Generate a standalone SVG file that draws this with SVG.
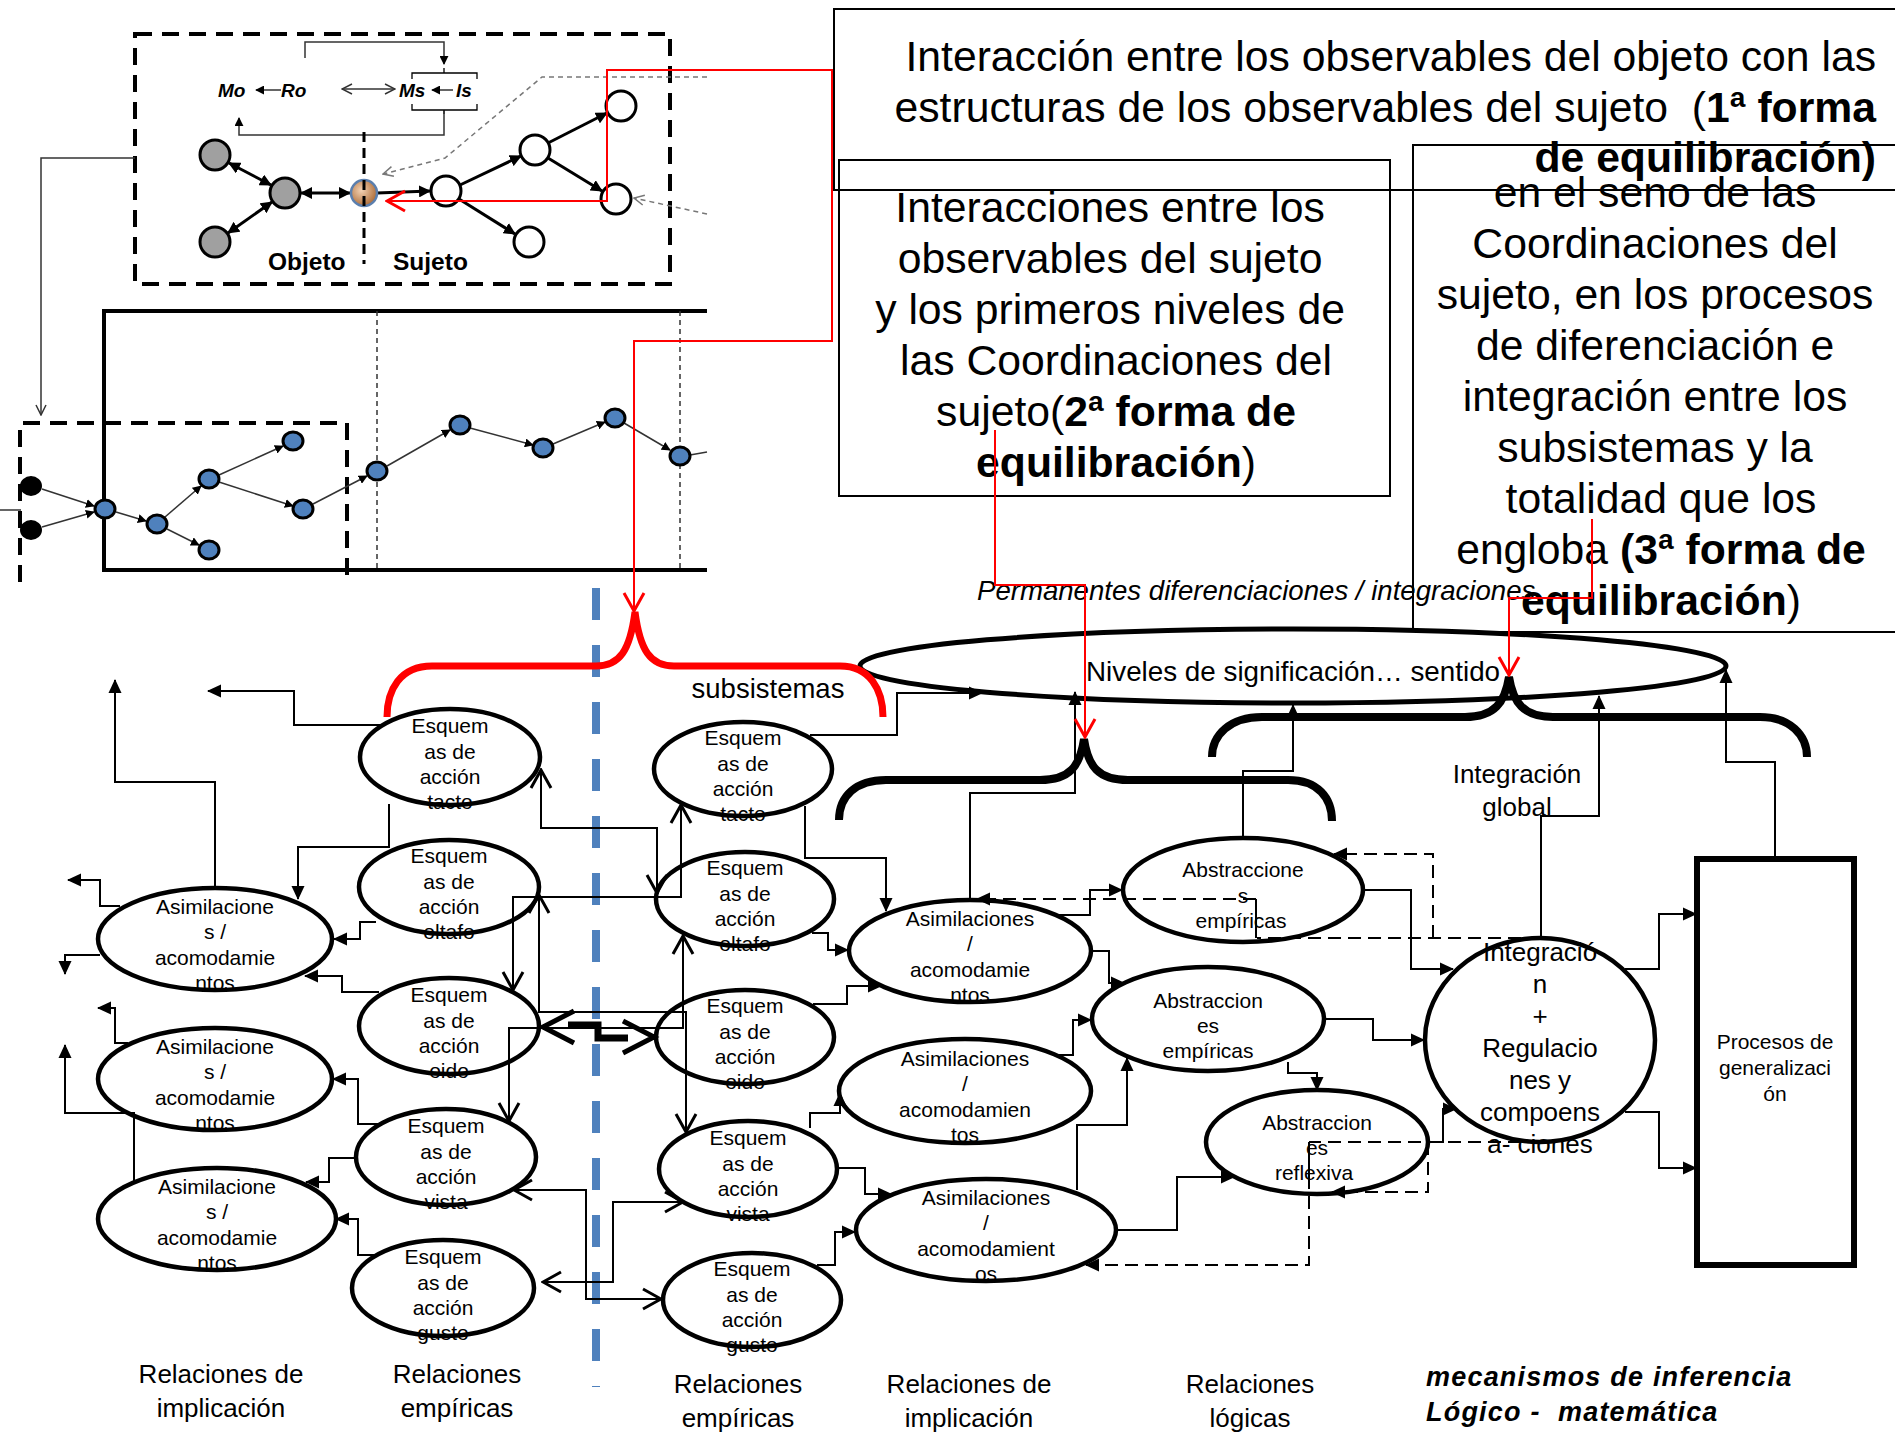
<svg xmlns="http://www.w3.org/2000/svg" width="1895" height="1440" viewBox="0 0 1895 1440">
<style>
text{font-family:"Liberation Sans",Arial,sans-serif;fill:#000}
.nd{fill:#fff;stroke:#000;stroke-width:4.5}
.t21{font-size:21px;text-anchor:middle}
.t42{font-size:42.7px}
.lab{font-size:26px;text-anchor:middle}
.c{fill:none;stroke:#000;stroke-width:2}
.ca{fill:none;stroke:#000;stroke-width:2;marker-end:url(#fa)}
.co{fill:none;stroke:#000;stroke-width:2;marker-start:url(#oa);marker-end:url(#oa)}
.cd{fill:none;stroke:#000;stroke-width:2;stroke-dasharray:13 7}
.cda{fill:none;stroke:#000;stroke-width:2;stroke-dasharray:13 7;marker-end:url(#fa)}
.red{fill:none;stroke:#f00;stroke-width:2}
.brace{fill:none;stroke:#000;stroke-width:8}
.box{fill:none;stroke:#000;stroke-width:2}
.fe{fill:none;stroke:#000;stroke-width:3}
.fe2{fill:none;stroke:#333;stroke-width:1.5;marker-end:url(#fs)}
.bn{fill:#4f81bd;stroke:#000;stroke-width:3}
.mr{font-size:19px;font-style:italic;font-weight:bold}
</style>
<defs>
<marker id="fa" viewBox="0 0 14 14" markerUnits="userSpaceOnUse" markerWidth="14" markerHeight="14" refX="13" refY="7" orient="auto"><path d="M0,0.5 L14,7 L0,13.5 z" fill="#000"/></marker>
<marker id="oa" viewBox="0 0 22 24" markerUnits="userSpaceOnUse" markerWidth="22" markerHeight="24" refX="20" refY="12" orient="auto-start-reverse"><path d="M2,2 L20,12 L2,22" fill="none" stroke="#000" stroke-width="3"/></marker>
<marker id="ra" viewBox="0 0 22 24" markerUnits="userSpaceOnUse" markerWidth="22" markerHeight="24" refX="20" refY="12" orient="auto-start-reverse"><path d="M2,2 L20,12 L2,22" fill="none" stroke="#f00" stroke-width="3"/></marker>
<marker id="fs" viewBox="0 0 10 10" markerUnits="userSpaceOnUse" markerWidth="9" markerHeight="9" refX="9" refY="5" orient="auto"><path d="M0,0 L10,5 L0,10 z" fill="#000"/></marker>
<marker id="fd" viewBox="0 0 12 12" markerUnits="userSpaceOnUse" markerWidth="12" markerHeight="12" refX="11" refY="6" orient="auto-start-reverse"><path d="M0,0 L12,6 L0,12 z" fill="#000"/></marker>
<marker id="os" viewBox="0 0 12 12" markerUnits="userSpaceOnUse" markerWidth="12" markerHeight="12" refX="11" refY="6" orient="auto-start-reverse"><path d="M1,1 L11,6 L1,11" fill="none" stroke="#333" stroke-width="1.5"/></marker>
<marker id="og" viewBox="0 0 12 12" markerUnits="userSpaceOnUse" markerWidth="12" markerHeight="12" refX="11" refY="6" orient="auto"><path d="M1,1 L11,6 L1,11" fill="none" stroke="#777" stroke-width="1.5"/></marker>
<radialGradient id="org" cx="0.4" cy="0.4" r="0.6"><stop offset="0" stop-color="#f3d2b4"/><stop offset="1" stop-color="#b0703c"/></radialGradient>
</defs>

<!-- Top-left figure 1 -->
<g id="fig-objeto-sujeto">
<rect x="135" y="34" width="535" height="250" fill="none" stroke="#000" stroke-width="4" stroke-dasharray="17 10"/>
<text class="mr" x="218" y="97">Mo</text>
<path d="M281,90 H256" class="fe2" stroke-width="2"/>
<text class="mr" x="281" y="97">Ro</text>
<path d="M342,89 H395" fill="none" stroke="#333" stroke-width="1.5" marker-start="url(#os)" marker-end="url(#os)"/>
<text class="mr" x="399" y="97">Ms</text>
<path d="M453,90 H432" class="fe2" stroke-width="2"/>
<text class="mr" x="456" y="97">Is</text>
<path d="M412,79 V73 H477 V79 M444,73 V68" fill="none" stroke="#000" stroke-width="1.3"/>
<path d="M412,104 V110 H477 V104 M444,110 V114" fill="none" stroke="#000" stroke-width="1.3"/>
<path d="M305,58 V42 H444 V64" class="fe2"/>
<path d="M444,111 V135 H239 V118" class="fe2"/>
<path d="M707,77 H542 L445,158 L383,174" fill="none" stroke="#777" stroke-width="1.5" stroke-dasharray="5 4" marker-end="url(#og)"/>
<path d="M707,214 L634,198" fill="none" stroke="#777" stroke-width="1.5" stroke-dasharray="5 4" marker-end="url(#og)"/>
<path d="M229,163 L271,185" class="fe" marker-start="url(#fd)" marker-end="url(#fd)"/>
<path d="M272,202 L228,233" class="fe" marker-start="url(#fd)" marker-end="url(#fd)"/>
<path d="M301,193 L350,193" class="fe" marker-start="url(#fd)" marker-end="url(#fd)"/>
<path d="M377,193 L430,191" class="fe" marker-end="url(#fd)"/>
<path d="M460,185 L521,156" class="fe" marker-end="url(#fd)"/>
<path d="M548,143 L607,113" class="fe" marker-end="url(#fd)"/>
<path d="M548,158 L602,191" class="fe" marker-end="url(#fd)"/>
<path d="M459,199 L515,234" class="fe" marker-end="url(#fd)"/>
<circle cx="215" cy="155" r="15" fill="#a0a0a0" stroke="#000" stroke-width="3"/>
<circle cx="285" cy="193" r="15" fill="#a0a0a0" stroke="#000" stroke-width="3"/>
<circle cx="215" cy="242" r="15" fill="#a0a0a0" stroke="#000" stroke-width="3"/>
<circle cx="364" cy="193" r="13" fill="url(#org)" stroke="#5b7fae" stroke-width="2.5"/>
<circle cx="446" cy="191" r="15" fill="#fff" stroke="#000" stroke-width="3"/>
<circle cx="535" cy="150" r="15" fill="#fff" stroke="#000" stroke-width="3"/>
<circle cx="621" cy="106" r="15" fill="#fff" stroke="#000" stroke-width="3"/>
<circle cx="616" cy="199" r="15" fill="#fff" stroke="#000" stroke-width="3"/>
<circle cx="529" cy="242" r="15" fill="#fff" stroke="#000" stroke-width="3"/>
<path d="M364,132 V264" stroke="#000" stroke-width="3" stroke-dasharray="10 6"/>
<text x="268" y="270" font-size="24.5" font-weight="bold">Objeto</text>
<text x="393" y="270" font-size="24.5" font-weight="bold">Sujeto</text>
<path d="M135,158 H41 V415" fill="none" stroke="#333" stroke-width="1.5" marker-end="url(#os)"/>
</g>

<!-- Top-left figure 2 -->
<g id="fig-proceso">
<path d="M707,311 H104 V570 H707" fill="none" stroke="#000" stroke-width="4"/>
<path d="M377,311 V570 M680,311 V570" stroke="#333" stroke-width="1.5" stroke-dasharray="5 4"/>
<path d="M20,582 V423 H347 V582" fill="none" stroke="#000" stroke-width="4" stroke-dasharray="17 10"/>
<path d="M0,510 H21" stroke="#333" stroke-width="1.5"/>
<g>
<path d="M42,489 L94,506" class="fe2"/>
<path d="M42,527 L94,512" class="fe2"/>
<path d="M116,512 L146,521" class="fe2"/>
<path d="M165,517 L201,486" class="fe2"/>
<path d="M167,529 L199,545" class="fe2"/>
<path d="M219,475 L283,446" class="fe2"/>
<path d="M219,482 L293,506" class="fe2"/>
<path d="M313,504 L367,476" class="fe2"/>
<path d="M387,466 L450,430" class="fe2"/>
<path d="M470,428 L533,445" class="fe2"/>
<path d="M553,444 L605,422" class="fe2"/>
<path d="M624,423 L670,450" class="fe2"/>
<path d="M690,455 L707,452" stroke="#333" stroke-width="1.5"/>
</g>
<ellipse cx="31" cy="486" rx="10" ry="9" fill="#000" stroke="#000" stroke-width="2"/>
<ellipse cx="31" cy="530" rx="10" ry="9" fill="#000" stroke="#000" stroke-width="2"/>
<ellipse cx="105" cy="509" rx="10" ry="9" class="bn"/>
<ellipse cx="157" cy="524" rx="10" ry="9" class="bn"/>
<ellipse cx="209" cy="479" rx="10" ry="9" class="bn"/>
<ellipse cx="209" cy="550" rx="10" ry="9" class="bn"/>
<ellipse cx="293" cy="441" rx="10" ry="9" class="bn"/>
<ellipse cx="303" cy="509" rx="10" ry="9" class="bn"/>
<ellipse cx="377" cy="471" rx="10" ry="9" class="bn"/>
<ellipse cx="460" cy="425" rx="10" ry="9" class="bn"/>
<ellipse cx="543" cy="448" rx="10" ry="9" class="bn"/>
<ellipse cx="615" cy="418" rx="10" ry="9" class="bn"/>
<ellipse cx="680" cy="456" rx="10" ry="9" class="bn"/>
</g>

<!-- Text boxes -->
<g id="box1">
<rect x="834" y="9" width="1075" height="181" class="box"/>
<text class="t42" text-anchor="end" x="1876" y="71">Interacción entre los observables del objeto con las</text>
<text class="t42" text-anchor="end" x="1876" y="122">estructuras de los observables del sujeto&#160; (<tspan font-weight="bold">1ª forma</tspan></text>
<text class="t42" text-anchor="end" x="1876" y="172" font-weight="bold">de equilibración)</text>
</g>
<g id="box2">
<rect x="839" y="160" width="551" height="336" class="box"/>
<text class="t42" text-anchor="middle">
<tspan x="1116" y="222">Interacciones entre los</tspan>
<tspan x="1116" y="273">observables del sujeto</tspan>
<tspan x="1116" y="324">y los primeros niveles de</tspan>
<tspan x="1116" y="375">las Coordinaciones del</tspan>
</text>
<text class="t42" text-anchor="middle" x="1116" y="426">sujeto(<tspan font-weight="bold">2ª forma de</tspan></text>
<text class="t42" text-anchor="middle" x="1116" y="477"><tspan font-weight="bold">equilibración</tspan>)</text>
</g>
<g id="box3">
<rect x="1413" y="145" width="500" height="487" class="box"/>
<text class="t42" text-anchor="middle" font-size="43.3">
<tspan x="1661" y="207">en el seno de las</tspan>
<tspan x="1661" y="258">Coordinaciones del</tspan>
<tspan x="1661" y="309">sujeto, en los procesos</tspan>
<tspan x="1661" y="360">de diferenciación e</tspan>
<tspan x="1661" y="411">integración entre los</tspan>
<tspan x="1661" y="462">subsistemas y la</tspan>
<tspan x="1661" y="513">totalidad que los</tspan>
</text>
<text class="t42" text-anchor="middle" font-size="43.3" x="1661" y="564">engloba <tspan font-weight="bold">(3ª forma de</tspan></text>
<text class="t42" text-anchor="middle" font-size="43.3" x="1661" y="615"><tspan font-weight="bold">equilibración</tspan>)</text>
</g>
<text id="permanentes" x="977" y="600" font-size="27.6" font-style="italic">Permanentes diferenciaciones / integraciones</text>

<!-- Blue separator -->
<path id="separador" d="M596,588 V1387" stroke="#4f81bd" stroke-width="8" stroke-dasharray="32 25"/>

<!-- Big ellipse -->
<g id="niveles">
<ellipse cx="1293" cy="666" rx="433" ry="37" fill="#fff" stroke="#000" stroke-width="5"/>
<text x="1086" y="681" font-size="27.8">Niveles de significación… sentido</text>
</g>

<!-- Nodes -->
<g id="a1"><ellipse class="nd" cx="215" cy="939" rx="117" ry="51"/><text class="t21"><tspan x="215" y="914">Asimilacione</tspan><tspan x="215" y="939">s /</tspan><tspan x="215" y="965">acomodamie</tspan><tspan x="215" y="990">ntos</tspan></text></g>
<g id="a2"><ellipse class="nd" cx="215" cy="1079" rx="117" ry="51"/><text class="t21"><tspan x="215" y="1054">Asimilacione</tspan><tspan x="215" y="1079">s /</tspan><tspan x="215" y="1105">acomodamie</tspan><tspan x="215" y="1130">ntos</tspan></text></g>
<g id="a3"><ellipse class="nd" cx="217" cy="1219" rx="119" ry="51"/><text class="t21"><tspan x="217" y="1194">Asimilacione</tspan><tspan x="217" y="1219">s /</tspan><tspan x="217" y="1245">acomodamie</tspan><tspan x="217" y="1270">ntos</tspan></text></g>

<g id="e1"><ellipse class="nd" cx="450" cy="757" rx="90" ry="48"/><text class="t21"><tspan x="450" y="733">Esquem</tspan><tspan x="450" y="759">as de</tspan><tspan x="450" y="784">acción</tspan><tspan x="450" y="809">tacto</tspan></text></g>
<g id="e2"><ellipse class="nd" cx="449" cy="887" rx="90" ry="47"/><text class="t21"><tspan x="449" y="863">Esquem</tspan><tspan x="449" y="889">as de</tspan><tspan x="449" y="914">acción</tspan><tspan x="449" y="939">oltafo</tspan></text></g>
<g id="e3"><ellipse class="nd" cx="449" cy="1026" rx="90" ry="48"/><text class="t21"><tspan x="449" y="1002">Esquem</tspan><tspan x="449" y="1028">as de</tspan><tspan x="449" y="1053">acción</tspan><tspan x="449" y="1078">oido</tspan></text></g>
<g id="e4"><ellipse class="nd" cx="446" cy="1157" rx="90" ry="48"/><text class="t21"><tspan x="446" y="1133">Esquem</tspan><tspan x="446" y="1159">as de</tspan><tspan x="446" y="1184">acción</tspan><tspan x="446" y="1209">vista</tspan></text></g>
<g id="e5"><ellipse class="nd" cx="443" cy="1288" rx="91" ry="48"/><text class="t21"><tspan x="443" y="1264">Esquem</tspan><tspan x="443" y="1290">as de</tspan><tspan x="443" y="1315">acción</tspan><tspan x="443" y="1340">gusto</tspan></text></g>

<g id="e6"><ellipse class="nd" cx="743" cy="769" rx="89" ry="47"/><text class="t21"><tspan x="743" y="745">Esquem</tspan><tspan x="743" y="771">as de</tspan><tspan x="743" y="796">acción</tspan><tspan x="743" y="821">tacto</tspan></text></g>
<g id="e7"><ellipse class="nd" cx="745" cy="899" rx="89" ry="47"/><text class="t21"><tspan x="745" y="875">Esquem</tspan><tspan x="745" y="901">as de</tspan><tspan x="745" y="926">acción</tspan><tspan x="745" y="951">oltafo</tspan></text></g>
<g id="e8"><ellipse class="nd" cx="745" cy="1037" rx="89" ry="47"/><text class="t21"><tspan x="745" y="1013">Esquem</tspan><tspan x="745" y="1039">as de</tspan><tspan x="745" y="1064">acción</tspan><tspan x="745" y="1089">oido</tspan></text></g>
<g id="e9"><ellipse class="nd" cx="748" cy="1169" rx="89" ry="48"/><text class="t21"><tspan x="748" y="1145">Esquem</tspan><tspan x="748" y="1171">as de</tspan><tspan x="748" y="1196">acción</tspan><tspan x="748" y="1221">vista</tspan></text></g>
<g id="e10"><ellipse class="nd" cx="752" cy="1300" rx="89" ry="47"/><text class="t21"><tspan x="752" y="1276">Esquem</tspan><tspan x="752" y="1302">as de</tspan><tspan x="752" y="1327">acción</tspan><tspan x="752" y="1352">gusto</tspan></text></g>

<g id="b1"><ellipse class="nd" cx="970" cy="951" rx="121" ry="51"/><text class="t21"><tspan x="970" y="926">Asimilaciones</tspan><tspan x="970" y="951">/</tspan><tspan x="970" y="977">acomodamie</tspan><tspan x="970" y="1002">ntos</tspan></text></g>
<g id="b2"><ellipse class="nd" cx="965" cy="1091" rx="126" ry="52"/><text class="t21"><tspan x="965" y="1066">Asimilaciones</tspan><tspan x="965" y="1091">/</tspan><tspan x="965" y="1117">acomodamien</tspan><tspan x="965" y="1142">tos</tspan></text></g>
<g id="b3"><ellipse class="nd" cx="986" cy="1230" rx="130" ry="51"/><text class="t21"><tspan x="986" y="1205">Asimilaciones</tspan><tspan x="986" y="1230">/</tspan><tspan x="986" y="1256">acomodamient</tspan><tspan x="986" y="1281">os</tspan></text></g>

<g id="c1"><ellipse class="nd" cx="1243" cy="890" rx="120" ry="52"/><text class="t21"><tspan x="1243" y="877">Abstraccione</tspan><tspan x="1243" y="903">s</tspan><tspan x="1241" y="928">empíricas</tspan></text></g>
<g id="c2"><ellipse class="nd" cx="1208" cy="1019" rx="116" ry="52"/><text class="t21"><tspan x="1208" y="1008">Abstraccion</tspan><tspan x="1208" y="1033">es</tspan><tspan x="1208" y="1058">empíricas</tspan></text></g>
<g id="c3"><ellipse class="nd" cx="1317" cy="1142" rx="111" ry="52"/><text class="t21"><tspan x="1317" y="1130">Abstraccion</tspan><tspan x="1317" y="1155">es</tspan><tspan x="1314" y="1180">reflexiva</tspan></text></g>

<g id="d"><ellipse class="nd" cx="1540" cy="1040" rx="115" ry="102" stroke-width="5"/><text font-size="26" text-anchor="middle"><tspan x="1540" y="961">Integració</tspan><tspan x="1540" y="993">n</tspan><tspan x="1540" y="1025">+</tspan><tspan x="1540" y="1057">Regulacio</tspan><tspan x="1540" y="1089">nes y</tspan><tspan x="1540" y="1121">compoens</tspan><tspan x="1540" y="1153">a- ciones</tspan></text></g>

<g id="p"><rect x="1697" y="859" width="157" height="406" fill="#fff" stroke="#000" stroke-width="6"/><text class="t21"><tspan x="1775" y="1049">Procesos de</tspan><tspan x="1775" y="1075">generalizaci</tspan><tspan x="1775" y="1101">ón</tspan></text></g>

<!-- Labels -->
<g id="labels">
<text class="lab"><tspan x="221" y="1383">Relaciones de</tspan><tspan x="221" y="1417">implicación</tspan></text>
<text class="lab"><tspan x="457" y="1383">Relaciones</tspan><tspan x="457" y="1417">empíricas</tspan></text>
<text class="lab"><tspan x="738" y="1393">Relaciones</tspan><tspan x="738" y="1427">empíricas</tspan></text>
<text class="lab"><tspan x="969" y="1393">Relaciones de</tspan><tspan x="969" y="1427">implicación</tspan></text>
<text class="lab"><tspan x="1250" y="1393">Relaciones</tspan><tspan x="1250" y="1427">lógicas</tspan></text>
<text font-size="27" font-weight="bold" font-style="italic" letter-spacing="1.2"><tspan x="1426" y="1386">mecanismos de inferencia</tspan><tspan x="1426" y="1421">Lógico -&#160; matemática</tspan></text>
<text class="lab"><tspan x="1517" y="783">Integración</tspan><tspan x="1517" y="816">global</tspan></text>
<text x="768" y="698" font-size="27.5" text-anchor="middle">subsistemas</text>
</g>

<!-- Braces -->
<g id="braces">
<path class="brace" d="M839,820 C839,796 856,780 886,780 L1040,780 C1070,780 1080,766 1084,739 C1088,766 1098,780 1128,780 L1288,780 C1318,780 1332,798 1332,821"/>
<path class="brace" d="M1212,757 C1212,735 1230,717 1262,717 L1465,717 C1495,717 1505,702 1509,677 C1513,702 1523,717 1553,717 L1760,717 C1790,717 1807,735 1807,757"/>
<path d="M387,717 C387,690 400,666 432,666 L596,666 C620,666 630,650 635,612 C640,650 650,666 674,666 L840,666 C870,666 883,690 883,717" fill="none" stroke="#f00" stroke-width="7"/>
</g>

<!-- Connectors -->
<g id="connectors">
<path class="ca" d="M383,725 H294 V691 H208"/>
<path class="ca" d="M215,890 V782 H115 V680"/>
<path class="ca" d="M389,804 V847 H298 V899"/>
<path class="ca" d="M376,922 H360 V939 H334"/>
<path class="ca" d="M379,992 H342 V976 H305"/>
<path class="ca" d="M120,906 H100 V880 H68"/>
<path class="ca" d="M100,955 H65 V974"/>
<path class="ca" d="M128,1043 H115 V1008 H98"/>
<path class="ca" d="M134,1181 V1113 H65 V1045"/>
<path class="ca" d="M379,1124 H358 V1079 H333"/>
<path class="ca" d="M355,1158 H329 V1182 H306"/>
<path class="ca" d="M375,1255 H358 V1219 H336"/>

<path class="co" d="M541,770 V828 H657 V893"/>
<path class="co" d="M513,990 V897 H681 V805"/>
<path class="co" d="M539,895 V1012 H686 V1132"/>
<path class="co" d="M509,1121 V1028 H683 V936"/>
<path class="co" d="M514,1190 H586 V1299 H661"/>
<path class="co" d="M543,1282 H613 V1202 H683"/>
<path d="M568,1025 H598 V1038 H628" fill="none" stroke="#000" stroke-width="7"/>
<path d="M574,1011 L543,1027 L574,1043" fill="none" stroke="#000" stroke-width="5"/>
<path d="M623,1021 L654,1037 L623,1053" fill="none" stroke="#000" stroke-width="5"/>

<path class="ca" d="M810,735 H897 V693 H982"/>
<path class="ca" d="M805,806 V858 H886 V911"/>
<path class="ca" d="M812,933 H828 V950 H848"/>
<path class="ca" d="M813,1004 H847 V986 H881"/>
<path class="ca" d="M810,1128 V1113 H840 V1093"/>
<path class="ca" d="M838,1168 H865 V1194 H891"/>
<path class="ca" d="M817,1265 H835 V1232 H855"/>
<path class="ca" d="M970,900 V793 H1075 V692"/>
<path class="ca" d="M1091,951 H1109 V983 H1124"/>
<path class="ca" d="M1056,915 H1090 V890 H1122"/>
<path class="ca" d="M1243,838 V771 H1293 V705"/>
<path class="ca" d="M1363,890 H1411 V969 H1453"/>
<path class="ca" d="M1324,1019 H1373 V1040 H1424"/>
<path class="ca" d="M1288,1062 V1073 H1317 V1090"/>
<path class="ca" d="M1055,1055 H1073 V1020 H1091"/>
<path class="ca" d="M1077,1190 V1125 H1127 V1058"/>
<path class="ca" d="M1115,1230 H1177 V1177 H1234"/>
<path class="ca" d="M1428,1142 H1443 V1109 H1456"/>
<path class="ca" d="M1541,938 V816 H1599 V696"/>
<path class="ca" d="M1625,969 H1659 V914 H1696"/>
<path class="ca" d="M1625,1112 H1659 V1168 H1696"/>
<path class="ca" d="M1775,858 V762 H1726 V670"/>

<path class="cd" d="M1541,938 H1257"/>
<path class="c" d="M1256,938 V899"/>
<path class="cda" d="M1256,899 H977"/>
<path class="cda" d="M1433,938 V854 H1334"/>
<path class="cd" d="M1541,1142 H1309"/>
<path class="c" d="M1309,1142 V1176"/>
<path class="cda" d="M1309,1176 V1265 H1086"/>
<path class="cda" d="M1428,1142 V1192 H1332"/>
</g>

<!-- Red connectors -->
<g id="red-connectors">
<path class="red" d="M387,201 L607,201 L607,70 L832,70 L832,341 L634,341 L634,611" marker-start="url(#ra)" marker-end="url(#ra)"/>
<path class="red" d="M995,430 V585 H1085 V737" marker-end="url(#ra)"/>
<path class="red" d="M1592,519 V598 H1509 V675" marker-end="url(#ra)"/>
</g>
</svg>
